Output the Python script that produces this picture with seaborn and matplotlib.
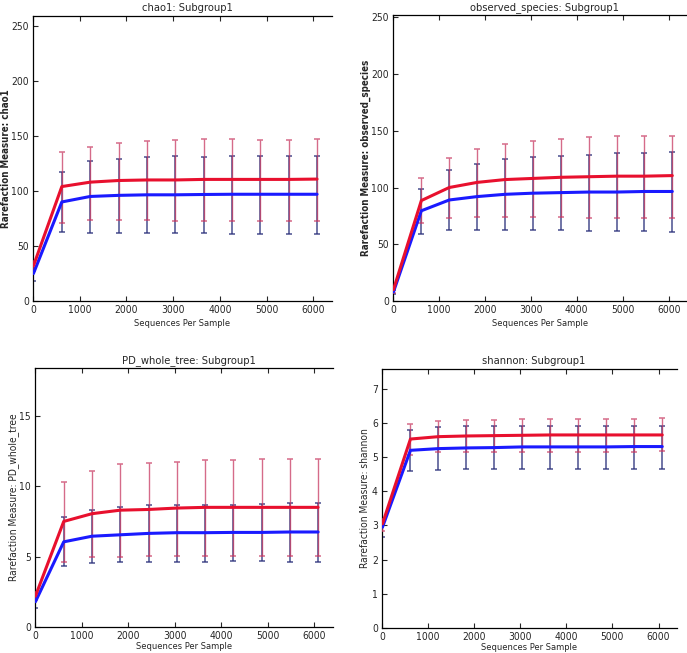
import numpy as np
import matplotlib
matplotlib.use("Agg")
import matplotlib.pyplot as plt
import seaborn as sns

## sequencing depths (x values shared by all panels)
depths = [10, 617, 1224, 1831, 2438, 3045, 3652, 4259, 4866, 5473, 6080]

## chao1
chao1_red = [32, 104, 108, 109.5, 110, 110, 110.5, 110.5, 110.5, 110.5, 110.8]
chao1_red_hi = [36, 135, 140, 144, 145.5, 146, 147, 147, 146, 146.5, 147]
chao1_red_lo = [27, 71, 74, 74, 74, 73, 73, 73, 73, 73, 73]
chao1_blue = [25, 90, 95, 96, 96.5, 96.5, 96.8, 97, 97, 97, 97]
chao1_blue_hi = [30, 117, 127, 129, 130.5, 132, 130.5, 131.5, 132, 132, 132]
chao1_blue_lo = [18, 63, 62, 62, 62, 62, 62, 61, 61, 61, 61]

## observed_species
obs_red = [10, 88.5, 100, 104.5, 107, 108, 109, 109.5, 110, 110, 110.5]
obs_red_hi = [12, 108, 126, 134, 138.5, 141, 143, 144.5, 145, 145, 145.5]
obs_red_lo = [7, 69, 73, 74, 74, 74, 74, 73, 73, 73, 73]
obs_blue = [8, 79.5, 89, 92, 94, 95, 95.5, 96, 96, 96.5, 96.5]
obs_blue_hi = [10, 99, 115, 121, 125, 127, 128, 129, 130, 130, 131]
obs_blue_lo = [6, 59, 62.5, 63, 63, 62.5, 62.5, 62, 62, 62, 61]

## PD_whole_tree
pd_red = [2.2, 7.5, 8.05, 8.3, 8.35, 8.45, 8.5, 8.5, 8.5, 8.5, 8.5]
pd_red_hi = [2.5, 10.3, 11.1, 11.6, 11.65, 11.75, 11.85, 11.85, 11.9, 11.9, 11.9]
pd_red_lo = [1.9, 4.6, 5.0, 5.0, 5.05, 5.05, 5.05, 5.05, 5.05, 5.05, 5.05]
pd_blue = [1.8, 6.05, 6.45, 6.55, 6.65, 6.7, 6.7, 6.72, 6.72, 6.75, 6.75]
pd_blue_hi = [2.1, 7.8, 8.3, 8.5, 8.65, 8.7, 8.7, 8.7, 8.72, 8.78, 8.78]
pd_blue_lo = [1.35, 4.3, 4.55, 4.65, 4.65, 4.65, 4.65, 4.7, 4.7, 4.65, 4.65]

## shannon
sh_red = [3.05, 5.53, 5.6, 5.62, 5.63, 5.64, 5.65, 5.65, 5.65, 5.65, 5.65]
sh_red_hi = [3.2, 5.97, 6.05, 6.1, 6.1, 6.13, 6.13, 6.13, 6.13, 6.13, 6.14]
sh_red_lo = [2.85, 5.05, 5.15, 5.15, 5.15, 5.15, 5.15, 5.15, 5.15, 5.15, 5.17]
sh_blue = [2.95, 5.2, 5.25, 5.27, 5.28, 5.3, 5.3, 5.3, 5.3, 5.31, 5.31]
sh_blue_hi = [3.1, 5.8, 5.87, 5.9, 5.92, 5.92, 5.92, 5.92, 5.92, 5.92, 5.92]
sh_blue_lo = [2.65, 4.6, 4.63, 4.65, 4.65, 4.65, 4.65, 4.65, 4.65, 4.65, 4.65]

sns.set_style("ticks")
plt.rcParams['font.family'] = ['DejaVu Sans']
plt.rcParams['font.stretch'] = 'condensed'

W, H = 687, 653
fig = plt.figure(figsize=(W / 100, H / 100), dpi=100)


def px_axes(left, right, top, bottom):
    '''make axes from pixel box (y measured from top)'''
    return fig.add_axes([left / W, (H - bottom) / H, (right - left) / W, (bottom - top) / H])


panels = [
    # name, box, ylim, yticks, data, ylabel x, xlabel y, bold ylabel
    ("chao1", (33, 332, 16, 301), 259, [0, 50, 100, 150, 200, 250],
     (chao1_red, chao1_red_hi, chao1_red_lo, chao1_blue, chao1_blue_hi, chao1_blue_lo), -0.074, -0.063, True),
    ("observed_species", (393, 687, 15, 301), 252, [0, 50, 100, 150, 200, 250],
     (obs_red, obs_red_hi, obs_red_lo, obs_blue, obs_blue_hi, obs_blue_lo), -0.075, -0.063, True),
    ("PD_whole_tree", (35, 333, 368, 627), 18.4, [0, 5, 10, 15],
     (pd_red, pd_red_hi, pd_red_lo, pd_blue, pd_blue_hi, pd_blue_lo), -0.054, -0.058, False),
    ("shannon", (382, 677, 369, 628), 7.58, [0, 1, 2, 3, 4, 5, 6, 7],
     (sh_red, sh_red_hi, sh_red_lo, sh_blue, sh_blue_hi, sh_blue_lo), -0.041, -0.058, False),
]

for name, box, ymax, yticks, vals, ylab_x, xlab_y, bold in panels:
    ax = px_axes(*box)
    rm, rhi, rlo, bm, bhi, blo = [np.array(v, dtype=float) for v in vals]
    x = np.array(depths)

    ## error bars first (blue under red)
    ax.errorbar(x, bm, yerr=[bm - blo, bhi - bm], fmt='none', ecolor='#2a2f7a',
                elinewidth=1.1, capsize=2.5, capthick=1.1, alpha=0.85, zorder=2)
    ax.errorbar(x, rm, yerr=[rm - rlo, rhi - rm], fmt='none', ecolor='#c83a62',
                elinewidth=1.0, capsize=2.5, capthick=1.1, alpha=0.75, zorder=3)

    sns.lineplot(x=x, y=bm, color='#1a1aff', linewidth=2.2, ax=ax, zorder=4)
    sns.lineplot(x=x, y=rm, color='#e8102e', linewidth=2.2, ax=ax, zorder=5)

    ax.set_xlim(0, 6400)
    ax.set_ylim(0, ymax)
    ax.set_xticks([0, 1000, 2000, 3000, 4000, 5000, 6000])
    ax.set_yticks(yticks)
    ax.tick_params(direction='in', length=3.5, width=0.8, labelsize=7.4, top=True, right=False, pad=3)
    for s in ['left', 'bottom', 'top']:
        ax.spines[s].set_linewidth(0.9)
        ax.spines[s].set_color('black')
    ax.spines['right'].set_visible(False)

    ax.set_title(name + ": Subgroup1", fontsize=8, pad=3.5)
    ax.title.set_x(0.515)
    ax.set_xlabel("Sequences Per Sample", fontsize=6.7)
    ax.set_ylabel("Rarefaction Measure: " + name, fontsize=7.0 if bold else 7.3,
                  fontweight='bold' if bold else 'normal')
    ax.yaxis.set_label_coords(ylab_x, 0.5)
    ax.xaxis.set_label_coords(0.5, xlab_y)

fig.savefig("out.png", dpi=100)
